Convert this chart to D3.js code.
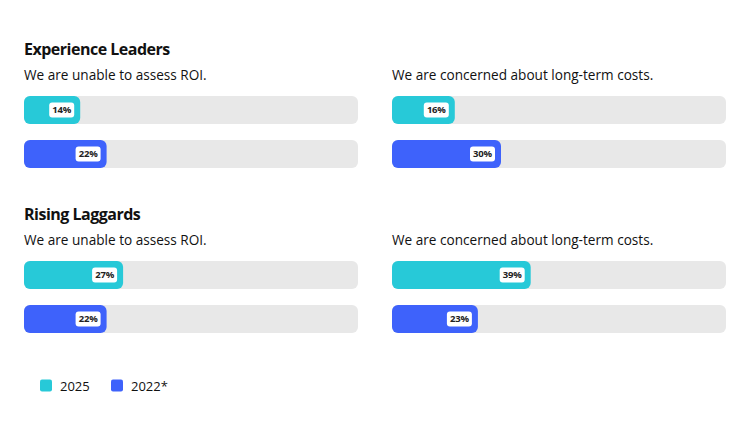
<!DOCTYPE html>
<html>
<head>
<meta charset="utf-8">
<script src="https://cdn.jsdelivr.net/npm/d3@7"></script>
<style>
  html, body { margin: 0; padding: 0; background: #ffffff; }
  svg { display: block; }
</style>
</head>
<body>
<svg id="chart" width="750" height="422"></svg>
<script>
// ---- data ----
const segments = ["Experience Leaders", "Rising Laggards"];
const questions = ["We are unable to assess ROI.", "We are concerned about long-term costs."];
const seriesNames = ["2025", "2022*"];
const values2025 = [[14, 16], [27, 39]];   // [segment][question]
const values2022 = [[22, 30], [22, 23]];
const seriesColors = ["#27c9d8", "#3e62fb"];

// ---- layout ----
const svg = d3.select("#chart");
const font = "'Open Sans', 'Noto Sans', sans-serif";
const panelX = [24, 392];
const trackW = 334;
const sectionTop = [0, 165];

const x = d3.scaleLinear().domain([0, 100]).range([10, 340]);
const yBand = d3.scaleBand().domain(seriesNames).range([96, 168]).paddingInner(16 / 44);

segments.forEach((seg, si) => {
  const g = svg.append("g").attr("transform", `translate(0,${sectionTop[si]})`);
  g.append("text")
    .attr("x", 24).attr("y", 54.5)
    .attr("font-family", font).attr("font-size", 16).attr("font-weight", 700)
    .attr("letter-spacing", -0.5)
    .attr("fill", "#111")
    .text(seg);

  questions.forEach((q, qi) => {
    const px = panelX[qi];
    const pg = g.append("g").attr("transform", `translate(${px},0)`);
    pg.append("text")
      .attr("x", 0).attr("y", 80)
      .attr("font-family", font).attr("font-size", 13.6)
      .attr("fill", "#111")
      .text(q);

    const vals = [values2025[si][qi], values2022[si][qi]];
    seriesNames.forEach((s, k) => {
      const y = yBand(s);
      const h = yBand.bandwidth();
      pg.append("rect")
        .attr("x", 0).attr("y", y).attr("width", trackW).attr("height", h)
        .attr("rx", 6).attr("fill", "#e8e8e8");
      const w = x(vals[k]);
      pg.append("rect")
        .attr("x", 0).attr("y", y).attr("width", w).attr("height", h)
        .attr("rx", 6).attr("fill", seriesColors[k]);
      const lw = 25, lh = 15;
      pg.append("rect")
        .attr("x", w - 6 - lw).attr("y", y + h / 2 - lh / 2)
        .attr("width", lw).attr("height", lh).attr("rx", 3)
        .attr("fill", "#ffffff");
      pg.append("text")
        .attr("x", w - 6 - lw / 2).attr("y", y + h / 2)
        .attr("dy", "0.35em")
        .attr("text-anchor", "middle")
        .attr("font-family", font).attr("font-size", 9.5).attr("font-weight", 700)
        .attr("letter-spacing", -0.2)
        .attr("fill", "#222")
        .text(vals[k] + "%");
    });
  });
});

// ---- legend ----
const legendX = [40, 111];
seriesNames.forEach((s, k) => {
  svg.append("rect")
    .attr("x", legendX[k]).attr("y", 379.5).attr("width", 12).attr("height", 12)
    .attr("rx", 2).attr("fill", seriesColors[k]);
  svg.append("text")
    .attr("x", legendX[k] + 20).attr("y", 391)
    .attr("font-family", font).attr("font-size", 13)
    .attr("fill", "#111")
    .text(s);
});
</script>
</body>
</html>
